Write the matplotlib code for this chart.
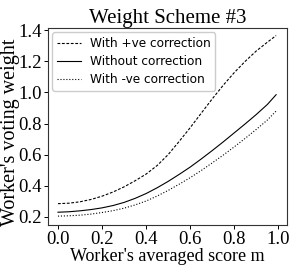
import matplotlib
matplotlib.use("Agg")
from matplotlib import pyplot as plt

# Values
score = [0.0, 0.05, 0.1, 0.15, 0.2, 0.25, 0.3, 0.35, 0.4, 0.45, 0.5,
         0.55, 0.6, 0.65, 0.7, 0.75, 0.8, 0.85, 0.9, 0.95, 0.99]
plus_ve = [0.285, 0.288, 0.297, 0.312, 0.333, 0.360, 0.393, 0.432, 0.475, 0.530, 0.600,
           0.685, 0.773, 0.866, 0.958, 1.046, 1.127, 1.200, 1.266, 1.322, 1.365]
no_corr = [0.230, 0.233, 0.239, 0.247, 0.258, 0.273, 0.293, 0.319, 0.350, 0.387, 0.428,
           0.473, 0.520, 0.572, 0.626, 0.682, 0.740, 0.798, 0.858, 0.922, 0.985]
minus_ve = [0.205, 0.207, 0.211, 0.218, 0.228, 0.240, 0.256, 0.277, 0.302, 0.334, 0.370,
            0.410, 0.452, 0.498, 0.547, 0.597, 0.650, 0.705, 0.762, 0.822, 0.880]

serif = "Liberation Serif"

fig = plt.figure(figsize=(2.93, 2.65), dpi=100)
ax = fig.add_axes([0.164, 0.151, 0.816, 0.743])

ax.plot(score, plus_ve, color="black", linestyle="--", linewidth=0.8, dashes=(2.5, 1.5),
        label="With +ve correction")
ax.plot(score, no_corr, color="black", linestyle="-", linewidth=0.8,
        label="Without correction")
ax.plot(score, minus_ve, color="black", linestyle=":", linewidth=0.8,
        label="With -ve correction")

ax.set_xlim(-0.045, 1.04)
ax.set_ylim(0.148, 1.413)
ax.set_xticks([0.0, 0.2, 0.4, 0.6, 0.8, 1.0])
ax.set_yticks([0.2, 0.4, 0.6, 0.8, 1.0, 1.2, 1.4])
for lab in ax.get_xticklabels() + ax.get_yticklabels():
    lab.set_fontfamily(serif)
    lab.set_fontsize(13.5)
ax.tick_params(length=3, width=0.7, pad=1.5)
for sp in ax.spines.values():
    sp.set_linewidth(0.8)
    sp.set_color("#333333")

ax.set_title("Weight Scheme #3", fontfamily=serif, fontsize=15, pad=2)
ax.set_xlabel("Worker's averaged score m", fontfamily=serif, fontsize=13, labelpad=0)
ax.set_ylabel("Worker's voting weight", fontfamily=serif, fontsize=14.5, labelpad=0)
ax.yaxis.set_label_coords(-0.118, 0.47)

ax.legend(loc="upper left", fontsize=8.7, handlelength=2.0, handletextpad=0.7,
          borderaxespad=0.35, labelspacing=0.4, framealpha=1, fancybox=True)

fig.savefig("out.png", dpi=100)
